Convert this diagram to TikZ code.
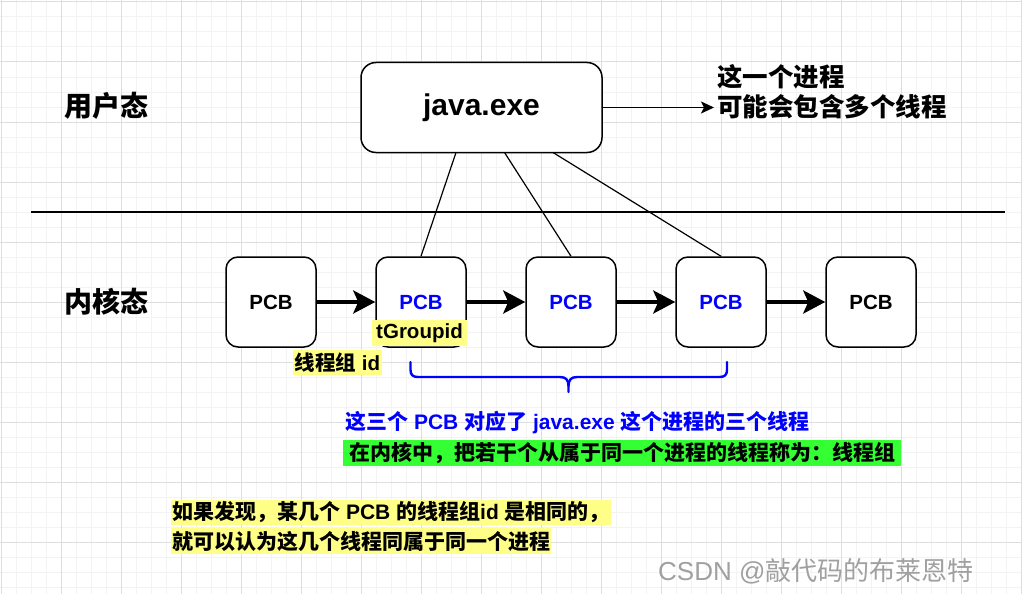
\documentclass[tikz,border=0pt]{standalone}
\usepackage{fontspec}
\setmainfont{Liberation Sans}
\newfontfamily\cjk{Noto Sans CJK SC}
\usetikzlibrary{arrows.meta}
\definecolor{gridmajor}{HTML}{DEDEDE}
\definecolor{gridminor}{HTML}{F3F3F3}
\definecolor{hlyellow}{HTML}{FFFF88}
\definecolor{hlgreen}{HTML}{33FF33}
\definecolor{pcbblue}{HTML}{0000FF}
\definecolor{wmgray}{HTML}{A0A0A0}
\begin{document}
\begin{tikzpicture}[x=1pt,y=-1pt,
  pcbbox/.style={draw, line width=1.5pt, rounded corners=12pt, minimum width=90pt, minimum height=90pt, fill=white, inner sep=0pt, font=\bfseries\fontsize{20.5}{24}\selectfont},
  thickarrow/.style={line width=4pt, -{Stealth[length=22pt,width=23pt,inset=5pt]}},
  thinline/.style={line width=1.2pt},
  hl/.style={inner xsep=2pt, inner ysep=2pt, font=\bfseries\fontsize{20.5}{24}\selectfont},
  lbl/.style={font=\cjk\bfseries\fontsize{28}{32}\selectfont}
]
\useasboundingbox (0,0) rectangle (1022,594);
\fill[white] (0,0) rectangle (1022,594);
% grid
\foreach \i in {0,...,68} {
  \draw[gridminor, line width=1pt] (1.7+15*\i,0) -- (1.7+15*\i,594);
}
\foreach \i in {0,...,39} {
  \draw[gridminor, line width=1pt] (0,2+15*\i) -- (1022,2+15*\i);
}
\foreach \i in {0,...,17} {
  \draw[gridmajor, line width=1pt] (1.7+60*\i,0) -- (1.7+60*\i,594);
}
\foreach \i in {0,...,9} {
  \draw[gridmajor, line width=1pt] (0,2+60*\i) -- (1022,2+60*\i);
}

% labels
\node[lbl] (user) at (106,106) {用户态};
\node[lbl] (kernel) at (106,302) {内核态};

% java box
\node[draw, line width=1.5pt, rounded corners=15pt, minimum width=241pt, minimum height=90pt, fill=white,
      font=\bfseries\fontsize{30}{34}\selectfont] (java) at (481.5,107.5) {java.exe};
\coordinate (noteend) at (714,107.5);
\draw[thinline, -{Stealth[length=13pt,width=12pt,inset=3pt]}] (java.east) -- (noteend);
\node[anchor=west, align=left, inner sep=0pt, font=\cjk\bfseries\fontsize{25.5}{30}\selectfont] (note) at (717,92) {这一个进程\\可能会包含多个线程};

% separator
\coordinate (sepL) at (31,212);
\coordinate (sepR) at (1005,212);
\draw[line width=1.5pt] (sepL) -- (sepR);

% PCB boxes
\node[pcbbox] (p1) at (271,302) {PCB};
\node[pcbbox, text=pcbblue] (p2) at (421,302) {PCB};
\node[pcbbox, text=pcbblue] (p3) at (571,302) {PCB};
\node[pcbbox, text=pcbblue] (p4) at (721,302) {PCB};
\node[pcbbox] (p5) at (871,302) {PCB};

\draw[thickarrow] (p1.east) -- (p2.west);
\draw[thickarrow] (p2.east) -- (p3.west);
\draw[thickarrow] (p3.east) -- (p4.west);
\draw[thickarrow] (p4.east) -- (p5.west);

% lines from java box
\coordinate (j1) at (456,152.5);
\coordinate (j2) at (504.5,152.5);
\coordinate (j3) at (553,152.5);
\draw[thinline] (j1) -- (p2.north);
\draw[thinline] (j2) -- (p3.north);
\draw[thinline] (j3) -- (p4.north);

% yellow labels
\node[hl, fill=hlyellow, minimum width=95pt, minimum height=26pt, inner sep=0pt] (tg) at (419.5,333) {tGroupid};
\node[hl, fill=hlyellow, minimum height=25pt, inner xsep=1.5pt, inner ysep=0pt] (gid) at (337.5,362.5) {{\cjk 线程组} id};

% blue brace
\draw[pcbblue, line width=2.4pt, line cap=round, line join=round]
  (410.5,362) -- (410.5,370) .. controls (410.5,375) and (413,377) .. (418,377)
  -- (560,377) .. controls (566,377) and (568.5,380) .. (568.5,386) -- (568.5,392);
\draw[pcbblue, line width=2.4pt, line cap=round, line join=round]
  (727,362) -- (727,370) .. controls (727,375) and (724.5,377) .. (719.5,377)
  -- (577,377) .. controls (571,377) and (568.5,380) .. (568.5,386);

% blue explanation
\node[anchor=west, inner sep=0pt, text=pcbblue, font=\bfseries\fontsize{21}{24}\selectfont] (expl) at (345,423)
  {{\cjk 这三个} PCB {\cjk 对应了} java.exe {\cjk 这个进程的三个线程}};
\node[anchor=west, fill=hlgreen, inner xsep=6pt, inner ysep=0pt, minimum height=26pt, font=\cjk\bfseries\fontsize{21}{24}\selectfont] (green) at (343,453)
  {在内核中，把若干个从属于同一个进程的线程称为：线程组};

% bottom yellow text
\node[anchor=west, fill=hlyellow, inner xsep=1pt, inner ysep=0pt, minimum height=25pt, font=\bfseries\fontsize{21}{24}\selectfont] (b1) at (171,512.5)
  {{\cjk 如果发现，某几个} PCB {\cjk 的线程组}id {\cjk 是相同的，}};
\node[anchor=west, fill=hlyellow, inner xsep=1pt, inner ysep=0pt, minimum height=26pt, font=\cjk\bfseries\fontsize{21}{24}\selectfont] (b2) at (171,541)
  {就可以认为这几个线程同属于同一个进程};

% watermark
\node[anchor=west, inner sep=0pt, text=wmgray, font=\fontsize{26}{30}\selectfont] (wm) at (658,571)
  {CSDN @{\cjk 敲代码的布莱恩特}};
\end{tikzpicture}
\end{document}
